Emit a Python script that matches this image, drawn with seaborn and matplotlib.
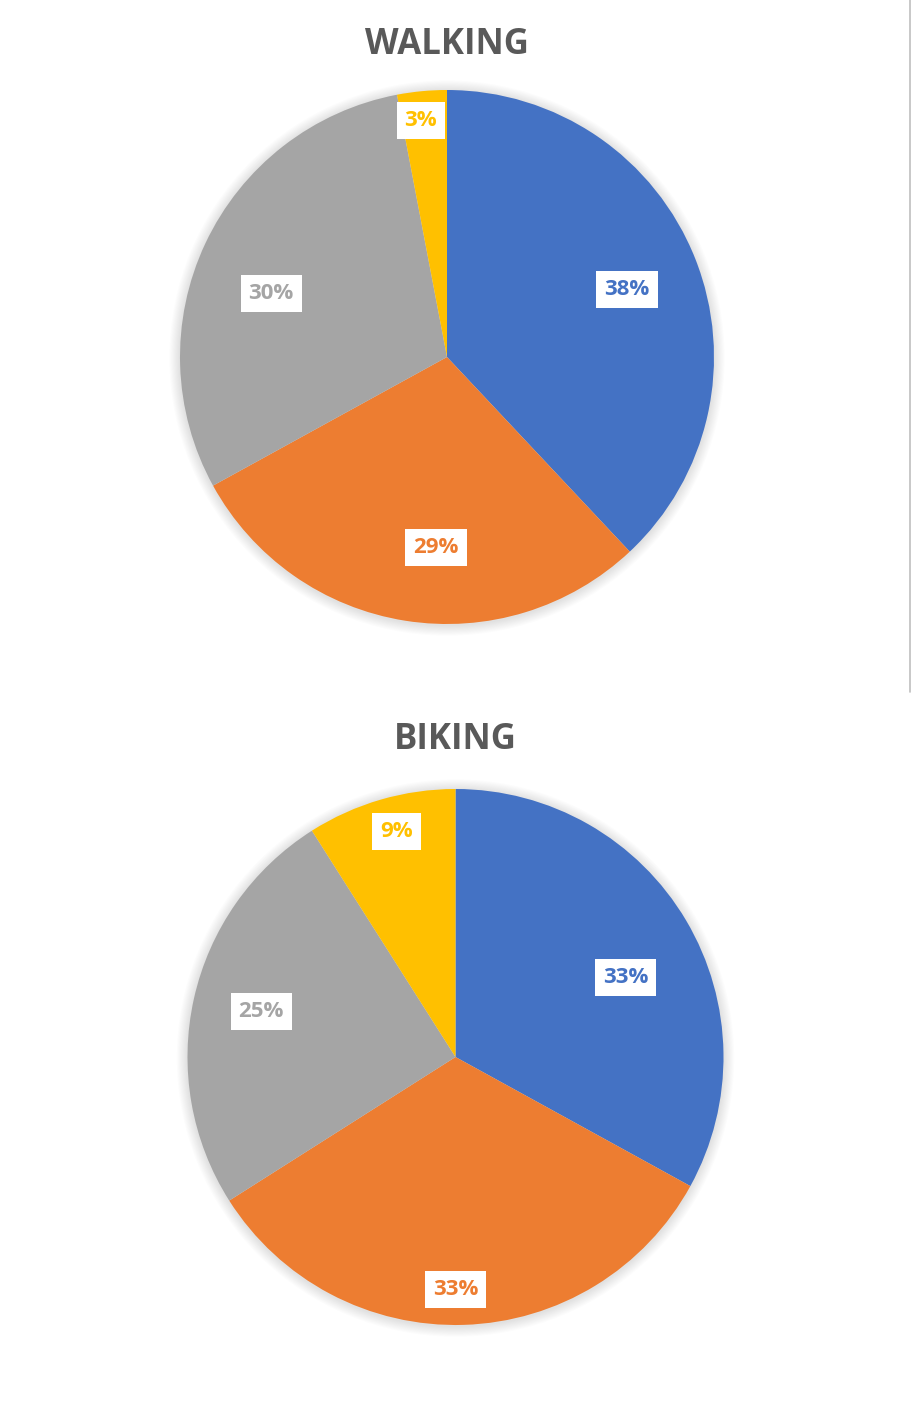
import numpy as np
import matplotlib
matplotlib.use("Agg")
import matplotlib.pyplot as plt
from matplotlib.lines import Line2D
from matplotlib.patches import Circle
import seaborn as sns

# Mode share data
categories = ["Category 1", "Category 2", "Category 3", "Category 4"]
walking_pct = [38, 29, 30, 3]
biking_pct = [33, 33, 25, 9]
titles = ["WALKING", "BIKING"]

# Label placement per slice: distance (fraction of radius) and angular nudge (deg)
walking_label_r = [0.72, 0.715, 0.70, 0.89]
walking_label_da = [-1.0, 5.7, 5.4, 0.9]
biking_label_r = [0.70, 0.866, 0.745, 0.87]
biking_label_da = [-5.5, -1.8, -0.7, -1.5]

sns.set_theme(style="white")
plt.rcParams["font.family"] = ["Open Sans", "DejaVu Sans"]
colors = sns.color_palette(["#4472C4", "#ED7D31", "#A5A5A5", "#FFC000"])

W, H = 911, 1421
fig = plt.figure(figsize=(W / 100, H / 100), dpi=100)
fig.patch.set_facecolor("white")


def draw_pie(rect, values, label_r, label_da, title, title_y):
    ax = fig.add_axes(rect)
    ax.axis("off")
    # soft shadow under the disc
    for i in range(10):
        ax.add_patch(Circle((0, -0.004), 1.0 + 0.004 * (i + 1), color="black",
                            alpha=0.012, lw=0, zorder=0, clip_on=False))
    wedges, _ = ax.pie(values, colors=colors, startangle=90, counterclock=False,
                       radius=1.0, wedgeprops=dict(linewidth=0))
    ax.set_xlim(-1, 1)
    ax.set_ylim(-1, 1)
    ax.set_aspect("equal")
    for w, v, r, da, c in zip(wedges, values, label_r, label_da, colors):
        mid = np.deg2rad((w.theta1 + w.theta2) / 2 + da)
        ax.text(r * np.cos(mid), r * np.sin(mid), f"{v}%", ha="center", va="center",
                fontsize=16, fontweight="bold", color=c,
                bbox=dict(boxstyle="square,pad=0.36", fc="white", ec="none"))
    fig.text(rect[0] + rect[2] / 2, title_y, title, ha="center", va="center",
             fontsize=25, fontweight="bold", color="#595959")
    return ax


# top pie: centre (447, 357), radius 267 px
draw_pie([180 / W, (H - 624) / H, 534 / W, 534 / H], walking_pct, walking_label_r,
         walking_label_da, titles[0], 1 - 45 / H)
# bottom pie: centre (455.5, 1057), radius 268 px
draw_pie([187.5 / W, (H - 1325) / H, 536 / W, 536 / H], biking_pct, biking_label_r,
         biking_label_da, titles[1], 1 - 740 / H)

# thin border on the right of the upper panel
fig.add_artist(Line2D([909.5 / W, 909.5 / W], [1, 1 - 692 / H], color="#BFBFBF", lw=1.2))

fig.savefig("out.png", dpi=100, facecolor="white")
